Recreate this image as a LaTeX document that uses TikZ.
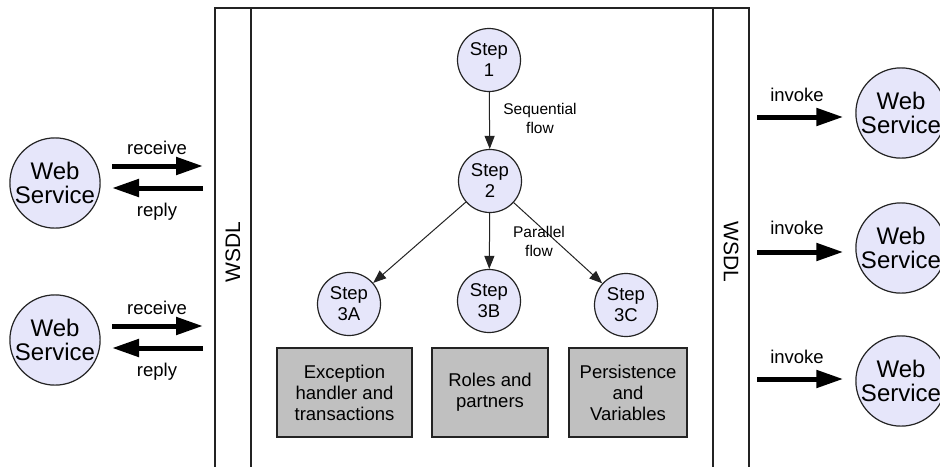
\documentclass[tikz,border=0pt]{standalone}
\usepackage{fontspec}
\setmainfont{Liberation Sans}
\usetikzlibrary{arrows.meta}

\definecolor{lav}{RGB}{230,230,250}
\definecolor{boxgray}{RGB}{192,192,192}
\definecolor{ink}{RGB}{35,35,35}

\tikzset{
  service/.style={circle, draw=ink, fill=lav, line width=1.2pt, minimum size=90pt,
    inner sep=0pt, align=center, font=\fontsize{24}{24}\selectfont},
  stepnode/.style={circle, draw=ink, fill=lav, line width=1.2pt, minimum size=63pt,
    inner sep=0pt, align=center, font=\fontsize{18.5}{21}\selectfont},
  infobox/.style={rectangle, draw=ink, fill=boxgray, line width=1.2pt, minimum height=89pt,
    inner sep=0pt, align=center, font=\fontsize{18.5}{21}\selectfont},
  msg/.style={line width=5pt, -{Triangle[length=27pt,width=17pt]}},
  flowarrow/.style={draw=ink, line width=1pt, -{Triangle[length=13pt,width=10pt]}},
  msglabel/.style={font=\fontsize{18.5}{20}\selectfont, inner sep=0pt},
  flowlabel/.style={font=\fontsize{15.5}{19}\selectfont, align=center, inner sep=0pt},
  frame/.style={draw=ink, line width=1.3pt},
  wsdl/.style={font=\fontsize{21}{24}\selectfont, inner sep=0pt}
}

\begin{document}
\begin{tikzpicture}[x=1pt,y=-1pt]
\useasboundingbox (0,0) rectangle (940,466);
\clip (0,0) rectangle (940,466);

% process container with its two WSDL bands
\draw[frame] (215,480) -- (215,8) -- (749,8) -- (749,480);
\draw[frame] (251,8) -- (251,480);
\draw[frame] (713,8) -- (713,480);
\node[wsdl, rotate=90] (wsdlL) at (233,252) {WSDL};
\node[wsdl, rotate=-90] (wsdlR) at (731,252) {WSDL};

% steps of the process
\node[stepnode] (s1) at (489,60) {Step\\1};
\node[stepnode] (s2) at (490,181) {Step\\2};
\node[stepnode] (s3a) at (349,304) {Step\\3A};
\node[stepnode] (s3b) at (489,301) {Step\\3B};
\node[stepnode] (s3c) at (626,305) {Step\\3C};

\draw[flowarrow] (s1) -- (s2);
\draw[flowarrow] (s2) -- (s3a);
\draw[flowarrow] (s2) -- (s3b);
\draw[flowarrow] (s2) -- (s3c);
\node[flowlabel] (seq) at (540,118) {Sequential\\flow};
\node[flowlabel] (par) at (539,241) {Parallel\\flow};

% supporting concerns
\node[infobox, minimum width=135pt] (exc) at (344.5,392.5) {Exception\\handler and\\transactions};
\node[infobox, minimum width=116pt] (roles) at (490,392.5) {Roles and\\partners};
\node[infobox, minimum width=118pt] (pers) at (628,392.5) {Persistence\\and\\Variables};

% partner services on the left
\node[service] (wsL1) at (55,183) {Web\\Service};
\node[service] (wsL2) at (55,340) {Web\\Service};

\coordinate (r1a) at (112,166); \coordinate (r1b) at (203,166);
\coordinate (p1a) at (203,188); \coordinate (p1b) at (112,188);
\coordinate (r2a) at (112,326); \coordinate (r2b) at (203,326);
\coordinate (p2a) at (203,348); \coordinate (p2b) at (112,348);
\draw[msg] (r1a) -- (r1b);
\draw[msg] (p1a) -- (p1b);
\draw[msg] (r2a) -- (r2b);
\draw[msg] (p2a) -- (p2b);
\node[msglabel] (rl1) at (157,148) {receive};
\node[msglabel] (pl1) at (157,212) {reply};
\node[msglabel] (rl2) at (157,308) {receive};
\node[msglabel] (pl2) at (157,372) {reply};

% invoked services on the right
\node[service] (wsR1) at (901,113) {Web\\Service};
\node[service] (wsR2) at (901,248) {Web\\Service};
\node[service] (wsR3) at (901,381) {Web\\Service};

\coordinate (i1) at (757,117); \coordinate (i2) at (757,252); \coordinate (i3) at (757,379);
\draw[msg] (i1) -- ([xshift=-12pt]wsR1.west |- i1);
\draw[msg] (i2) -- ([xshift=-12pt]wsR2.west |- i2);
\draw[msg] (i3) -- ([xshift=-12pt]wsR3.west |- i3);
\node[msglabel] (il1) at (797,95) {invoke};
\node[msglabel] (il2) at (797,228) {invoke};
\node[msglabel] (il3) at (797,357) {invoke};
\end{tikzpicture}
\end{document}
